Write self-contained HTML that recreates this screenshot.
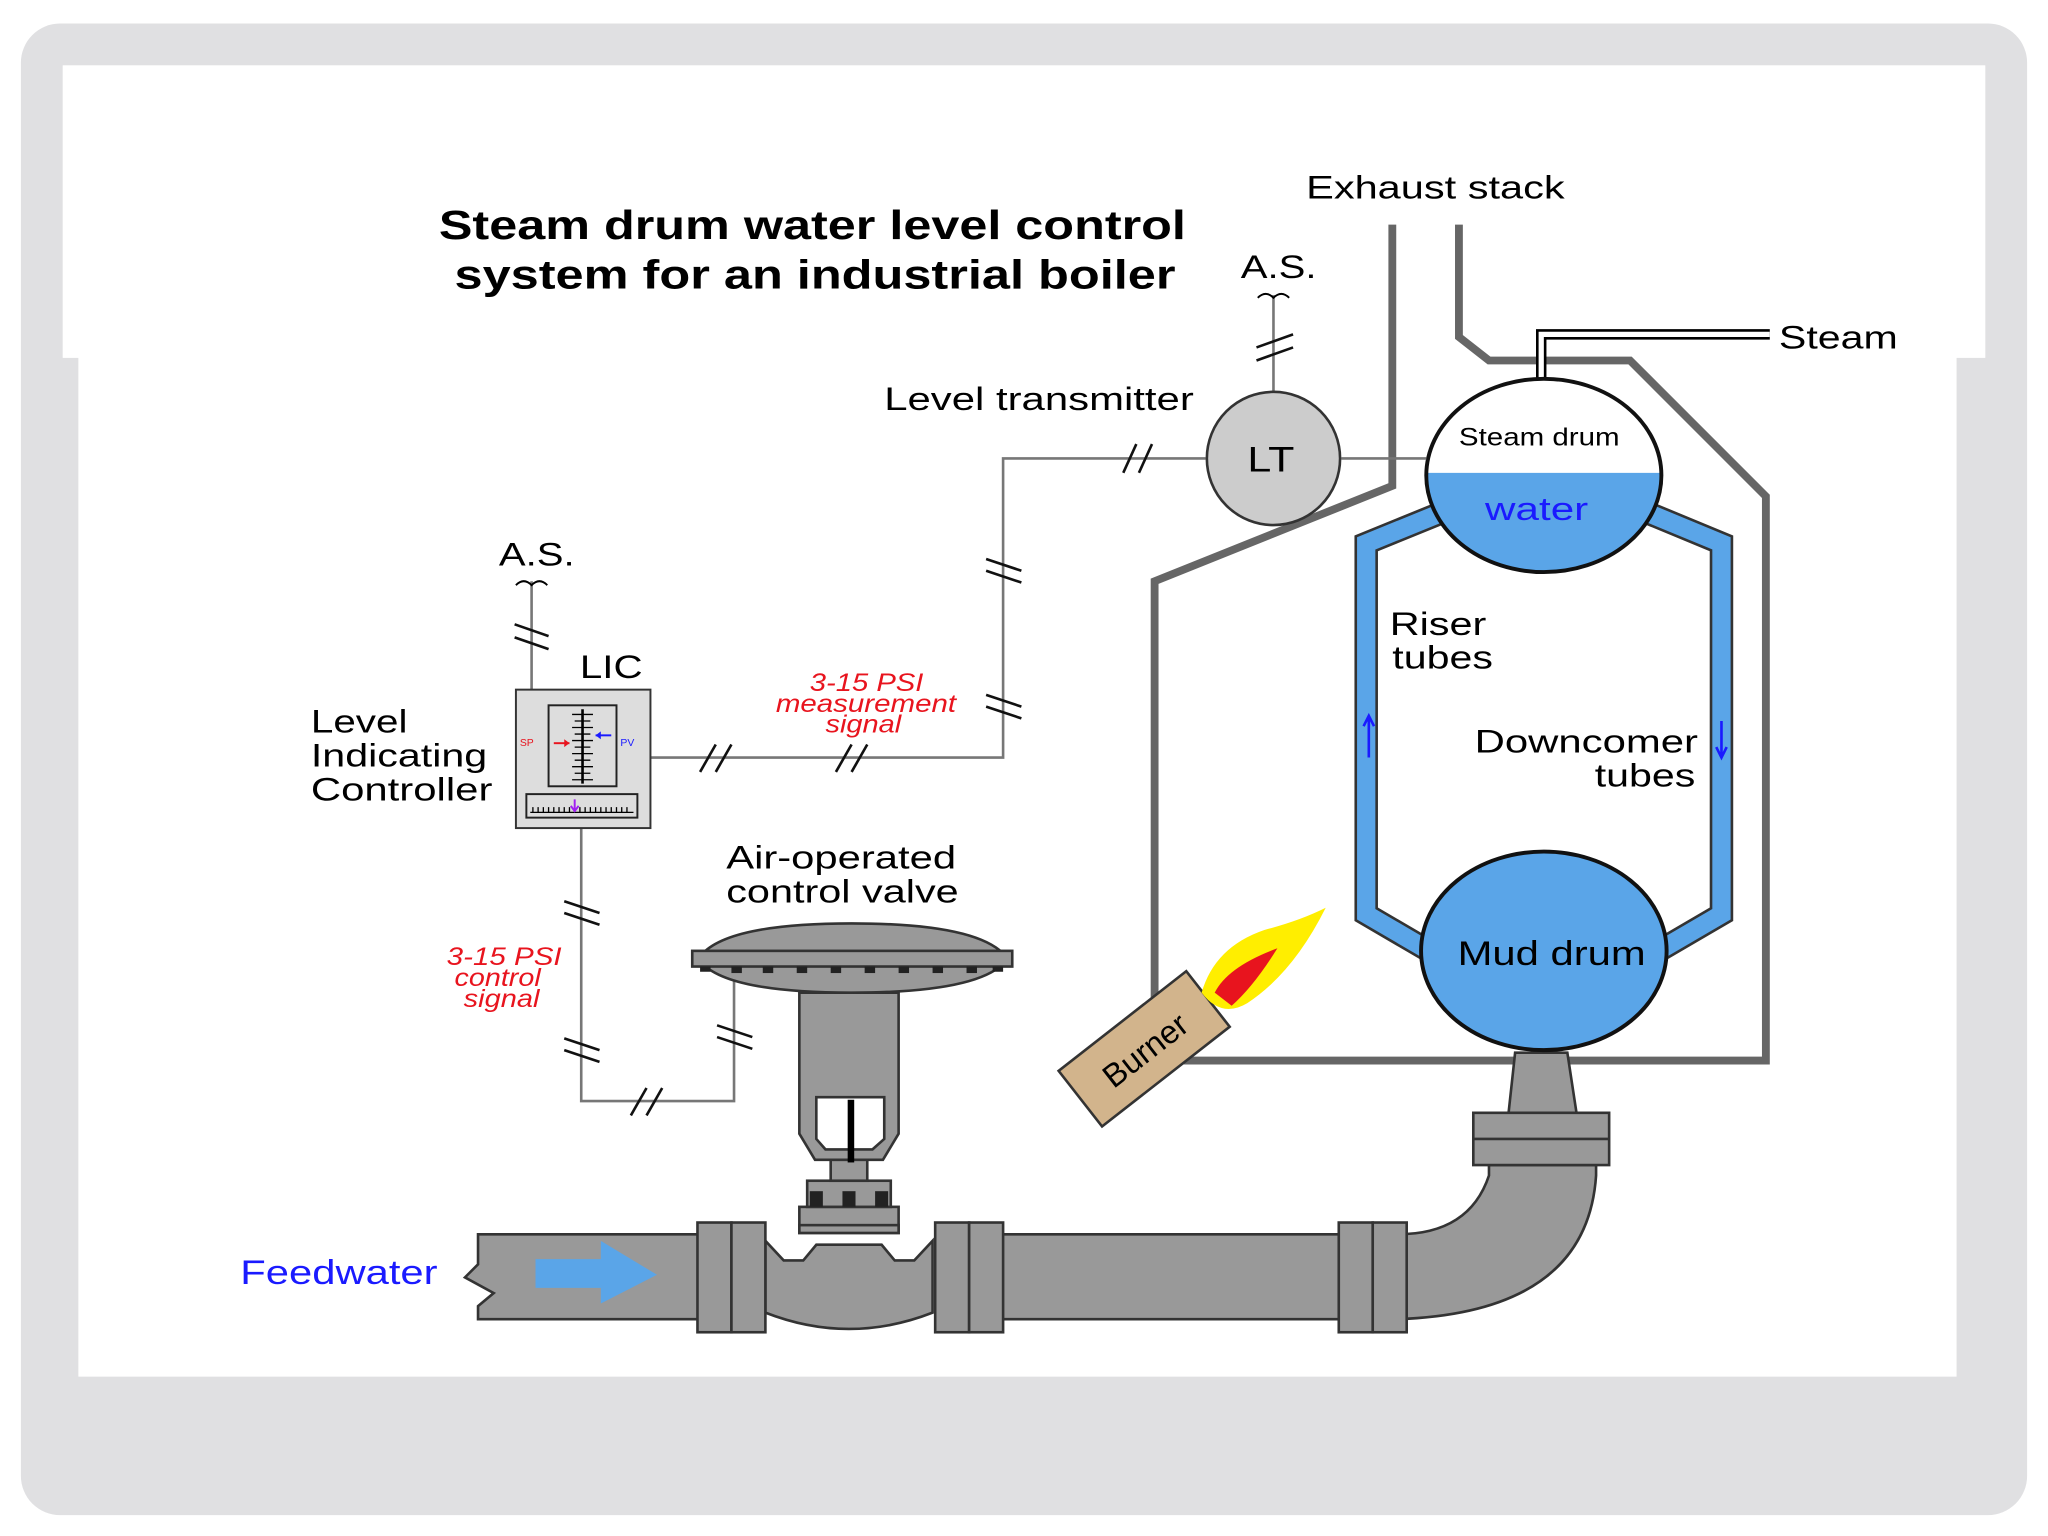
<!DOCTYPE html>
<html><head><meta charset="utf-8"><style>
html,body{margin:0;padding:0;background:#fff;}
svg{display:block;}
text{font-family:"Liberation Sans",sans-serif;}
</style></head><body>
<svg width="2048" height="1536" viewBox="0 0 1568 1176" preserveAspectRatio="none" xmlns="http://www.w3.org/2000/svg">
<rect x="0" y="0" width="1568" height="1176" fill="#fff"/>
<rect x="16" y="18" width="1536" height="1142" rx="30" fill="#e0e0e2"/>
<rect x="48" y="50" width="1472" height="224" fill="#fff"/>
<rect x="60" y="64" width="1438" height="990" fill="#fff"/>

<g lengthAdjust="spacingAndGlyphs">
<text x="336" y="183" font-size="31" font-weight="bold" textLength="572" lengthAdjust="spacingAndGlyphs">Steam drum water level control</text>
<text x="348" y="221" font-size="31" font-weight="bold" textLength="552" lengthAdjust="spacingAndGlyphs">system for an industrial boiler</text>
<text x="1000" y="152" font-size="25" textLength="198" lengthAdjust="spacingAndGlyphs">Exhaust stack</text>
<text x="1362" y="267" font-size="25" textLength="91" lengthAdjust="spacingAndGlyphs">Steam</text>
<text x="677" y="314" font-size="25" textLength="237" lengthAdjust="spacingAndGlyphs">Level transmitter</text>
<text x="950" y="213" font-size="25" textLength="58" lengthAdjust="spacingAndGlyphs">A.S.</text>
<text x="382" y="433" font-size="25" textLength="58" lengthAdjust="spacingAndGlyphs">A.S.</text>
<text x="444" y="519" font-size="25" textLength="48" lengthAdjust="spacingAndGlyphs">LIC</text>
<text x="238" y="561" font-size="25" textLength="74" lengthAdjust="spacingAndGlyphs">Level</text>
<text x="238" y="587" font-size="25" textLength="135" lengthAdjust="spacingAndGlyphs">Indicating</text>
<text x="238" y="613" font-size="25" textLength="139" lengthAdjust="spacingAndGlyphs">Controller</text>
<text x="556" y="665" font-size="25" textLength="176" lengthAdjust="spacingAndGlyphs">Air-operated</text>
<text x="556" y="691" font-size="25" textLength="178" lengthAdjust="spacingAndGlyphs">control valve</text>
<text x="184" y="983" font-size="26" fill="#1a1aff" textLength="151" lengthAdjust="spacingAndGlyphs">Feedwater</text>
<text x="1064" y="486" font-size="25" textLength="74" lengthAdjust="spacingAndGlyphs">Riser</text>
<text x="1066" y="512" font-size="25" textLength="77" lengthAdjust="spacingAndGlyphs">tubes</text>
<text x="1129" y="576" font-size="25" textLength="171" lengthAdjust="spacingAndGlyphs">Downcomer</text>
<text x="1221" y="602" font-size="25" textLength="77" lengthAdjust="spacingAndGlyphs">tubes</text>
<g fill="#e8141e" font-style="italic" font-size="19">
<text x="620" y="529" textLength="87" lengthAdjust="spacingAndGlyphs">3-15 PSI</text>
<text x="594" y="545" textLength="138" lengthAdjust="spacingAndGlyphs">measurement</text>
<text x="632" y="561" textLength="58" lengthAdjust="spacingAndGlyphs">signal</text>
<text x="342" y="739" textLength="88" lengthAdjust="spacingAndGlyphs">3-15 PSI</text>
<text x="348" y="755" textLength="66" lengthAdjust="spacingAndGlyphs">control</text>
<text x="355" y="771" textLength="58" lengthAdjust="spacingAndGlyphs">signal</text>
</g>
</g>

<g fill="none" stroke="#666" stroke-width="6">
<path d="M1066 172 V372 L884 445 V812 H1352 V380 L1248 276 H1140 L1117 258 V172"/>
</g>
<path d="M1180 292 V256 H1355" fill="none" stroke="#000" stroke-width="8"/>
<path d="M1180 292 V256 H1355" fill="none" stroke="#fff" stroke-width="4"/>

<g fill="none" stroke-linejoin="miter">
<path d="M1105 392 L1046 416 V700 L1094 728" stroke="#333" stroke-width="18"/>
<path d="M1105 392 L1046 416 V700 L1094 728" stroke="#5aa5e8" stroke-width="14"/>
<path d="M1260 392 L1318 416 V700 L1270 728" stroke="#333" stroke-width="18"/>
<path d="M1260 392 L1318 416 V700 L1270 728" stroke="#5aa5e8" stroke-width="14"/>
</g>
<path d="M1048 548 V580 M1044 556 L1048 548 L1052 556" stroke="#1a1aff" stroke-width="2" fill="none"/>
<path d="M1318 552 V580 M1314 572 L1318 580 L1322 572" stroke="#1a1aff" stroke-width="2" fill="none"/>

<defs><clipPath id="wc"><rect x="1080" y="362" width="210" height="100"/></clipPath></defs>
<ellipse cx="1182" cy="364" rx="90" ry="74" fill="#fff"/>
<ellipse cx="1182" cy="364" rx="90" ry="74" fill="#5aa5e8" clip-path="url(#wc)"/>
<ellipse cx="1182" cy="364" rx="90" ry="74" fill="none" stroke="#111" stroke-width="3"/>
<text x="1117" y="341" font-size="19" textLength="123" lengthAdjust="spacingAndGlyphs">Steam drum</text>
<text x="1137" y="398" font-size="25" fill="#1a1aff" textLength="79" lengthAdjust="spacingAndGlyphs">water</text>

<path d="M1160 806 L1155 852 H1207 L1200 806 Z" fill="#999" stroke="#333" stroke-width="2"/>
<ellipse cx="1182" cy="728" rx="94" ry="76" fill="#5aa5e8" stroke="#111" stroke-width="3"/>
<text x="1116" y="739" font-size="26" textLength="144" lengthAdjust="spacingAndGlyphs">Mud drum</text>

<line x1="1027" y1="351" x2="1092" y2="351" stroke="#777" stroke-width="2"/>
<line x1="975" y1="226" x2="975" y2="300" stroke="#777" stroke-width="2"/>
<path d="M963 228 q6 -6 12 0 q6 -6 12 0" fill="none" stroke="#000" stroke-width="1.5"/>
<circle cx="975" cy="351" r="51" fill="#ccc" stroke="#333" stroke-width="2"/>
<text x="955" y="361" font-size="27" textLength="36" lengthAdjust="spacingAndGlyphs">LT</text>

<path d="M923 351 H768 V580 H498" fill="none" stroke="#777" stroke-width="2"/>
<path d="M407 445 V528" fill="none" stroke="#777" stroke-width="2"/>
<path d="M395 448 q6 -6 12 0 q6 -6 12 0" fill="none" stroke="#000" stroke-width="1.5"/>
<path d="M445 634 V843 H562 V750" fill="none" stroke="#777" stroke-width="2"/>
<g stroke="#111" stroke-width="2">
<line x1="962" y1="266" x2="990" y2="256"/><line x1="962" y1="276" x2="990" y2="266"/>
<line x1="860" y1="362" x2="870" y2="340"/><line x1="872" y1="362" x2="882" y2="340"/>
<line x1="755" y1="428" x2="782" y2="437"/><line x1="755" y1="437" x2="782" y2="446"/>
<line x1="755" y1="532" x2="782" y2="541"/><line x1="755" y1="541" x2="782" y2="550"/>
<line x1="536" y1="591" x2="548" y2="570"/><line x1="548" y1="591" x2="560" y2="570"/>
<line x1="640" y1="591" x2="652" y2="570"/><line x1="652" y1="591" x2="664" y2="570"/>
<line x1="394" y1="478" x2="420" y2="487"/><line x1="394" y1="488" x2="420" y2="497"/>
<line x1="432" y1="690" x2="459" y2="699"/><line x1="432" y1="699" x2="459" y2="708"/>
<line x1="432" y1="795" x2="459" y2="804"/><line x1="432" y1="804" x2="459" y2="813"/>
<line x1="549" y1="785" x2="576" y2="794"/><line x1="549" y1="794" x2="576" y2="803"/>
<line x1="483" y1="854" x2="495" y2="833"/><line x1="495" y1="854" x2="507" y2="833"/>
</g>

<rect x="395" y="528" width="103" height="106" fill="#ddd" stroke="#333" stroke-width="1.5"/>
<rect x="420" y="540" width="52" height="62" fill="#ddd" stroke="#222" stroke-width="1.5"/>
<line x1="446" y1="543" x2="446" y2="600" stroke="#000" stroke-width="2"/>
<g stroke="#000" stroke-width="1">
<path d="M438 547h16M440 552h12M438 557h16M440 562h12M438 567h16M440 572h12M438 577h16M440 582h12M438 587h16M440 592h12M438 597h16"/>
</g>
<path d="M424 569 H436" stroke="#e8141e" stroke-width="1.5"/><path d="M436 569 l-4 -3 v6z" fill="#e8141e"/>
<path d="M456 563 H468" stroke="#1a1aff" stroke-width="1.5"/><path d="M456 563 l4 -3 v6z" fill="#1a1aff"/>
<text x="398" y="571" font-size="8" fill="#e8141e">SP</text>
<text x="475" y="571" font-size="8" fill="#1a1aff">PV</text>
<rect x="403" y="608" width="85" height="18" fill="#ddd" stroke="#222" stroke-width="1.5"/>
<path d="M406 622 H485" stroke="#000"/>
<path d="M408 622v-4M412 622v-4M416 622v-4M420 622v-4M424 622v-4M428 622v-4M432 622v-4M436 622v-4M440 622v-4M444 622v-4M448 622v-4M452 622v-4M456 622v-4M460 622v-4M464 622v-4M468 622v-4M472 622v-4M476 622v-4M480 622v-4" stroke="#000" stroke-width="1"/>
<path d="M440 612 v8 M437 617 l3 4 l3 -4" stroke="#a020f0" stroke-width="1.5" fill="none"/>

<g fill="#999" stroke="#333" stroke-width="2">
<path d="M366 945 H540 V1010 H366 L366 1000 L378 990 L356 978 L366 968 Z"/>
<path d="M760 945 H1035 V1010 H760 Z"/>
<path d="M1070 945 Q1125 945 1140 900 L1140 892 H1222 V900 Q1215 1005 1070 1010 Z"/>
<rect x="1128" y="852" width="104" height="40"/>
<line x1="1128" y1="872" x2="1232" y2="872"/>
<path d="M586 950 L600 965 H615 L625 953 H675 L685 965 H700 L714 950 V1005 Q650 1030 586 1005 Z"/>
<rect x="534" y="936" width="26" height="84"/><rect x="560" y="936" width="26" height="84"/>
<rect x="716" y="936" width="26" height="84"/><rect x="742" y="936" width="26" height="84"/>
<rect x="1025" y="936" width="26" height="84"/><rect x="1051" y="936" width="26" height="84"/>
<rect x="612" y="924" width="76" height="20"/>
<rect x="612" y="938" width="76" height="6"/>
<rect x="618" y="904" width="64" height="20"/>
<path d="M612 760 H688 V868 L676 888 H624 L612 868 Z"/>
<path d="M625 840 H677 V872 L668 880 H632 L625 872 Z" fill="#fff"/>
<rect x="636" y="888" width="28" height="16"/>
<path d="M538 730 Q560 707 652 707 Q745 707 768 730 Z"/>
<path d="M538 738 Q560 760 652 760 Q745 760 768 738 Z"/>
<rect x="530" y="728" width="245" height="12"/>
</g>
<rect x="649" y="842" width="5" height="48" fill="#000"/>
<g fill="#222">
<rect x="536" y="740" width="8" height="4"/><rect x="560" y="740" width="8" height="5"/><rect x="584" y="740" width="8" height="5"/><rect x="610" y="740" width="8" height="5"/><rect x="636" y="740" width="8" height="5"/><rect x="662" y="740" width="8" height="5"/><rect x="688" y="740" width="8" height="5"/><rect x="714" y="740" width="8" height="5"/><rect x="740" y="740" width="8" height="5"/><rect x="760" y="740" width="8" height="4"/>
<rect x="620" y="912" width="10" height="12"/><rect x="645" y="912" width="10" height="12"/><rect x="670" y="912" width="10" height="12"/>
</g>
<path d="M410 964 H460 V950 L503 976 L460 998 V986 H410 Z" fill="#5aa5e8"/>

<g transform="translate(876,803) rotate(-38)">
<rect x="-62" y="-27" width="124" height="54" fill="#d2b48c" stroke="#333" stroke-width="2"/>
<text x="0" y="10" font-size="25" text-anchor="middle">Burner</text>
</g>
<path d="M920 760 Q930 725 968 712 Q995 705 1015 695 Q990 745 955 768 Q935 780 920 760 Z" fill="#ffee00"/>
<path d="M930 760 Q940 740 978 726 Q960 755 943 770 Z" fill="#e8141e"/>
</svg>
</body></html>
